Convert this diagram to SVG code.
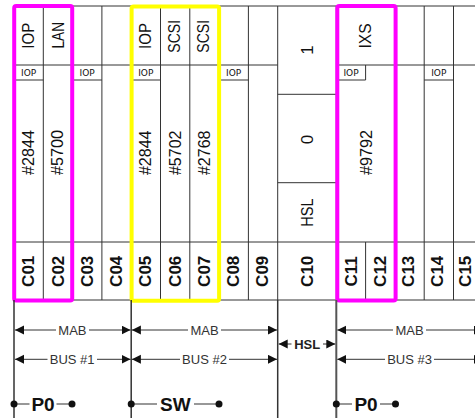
<svg xmlns="http://www.w3.org/2000/svg" width="475" height="418" viewBox="0 0 475 418">
<style>
.g{stroke:#333;stroke-width:1;fill:none}
.t{font-family:"Liberation Sans",Arial,sans-serif;font-size:17px;fill:#111;text-anchor:middle}
.b{font-weight:bold}
.s{font-family:"DejaVu Sans",sans-serif;font-size:9px;fill:#111;text-anchor:middle}
.a{font-family:"Liberation Sans",Arial,sans-serif;font-size:13px;fill:#333;text-anchor:middle}
.hb{font-family:"Liberation Sans",Arial,sans-serif;font-size:13px;font-weight:bold;fill:#222;text-anchor:middle}
.p{font-family:"Liberation Sans",Arial,sans-serif;font-size:19px;font-weight:bold;fill:#111;text-anchor:middle}
.conn{stroke:#333;stroke-width:1;fill:none;marker-start:url(#ah);marker-end:url(#ah)}
.ln{stroke:#333;stroke-width:1.2;fill:none}
.dot{fill:#111}
.mg{fill:none;stroke:#ff00ff;stroke-width:4}
.yl{fill:none;stroke:#ffff00;stroke-width:4}
</style>
<defs>
<marker id="ah" markerUnits="userSpaceOnUse" markerWidth="10" markerHeight="10" refX="9" refY="4.5" orient="auto-start-reverse">
<path d="M0,0 L9,4.5 L0,9 z" fill="#111"/>
</marker>
</defs>

<g id="grid" class="g">
<path d="M14,6H475 M14,300H475 M14,242H475 M14,65H277.7 M336.3,65H475"/>
<path d="M14,6V300 M43.3,6V300 M72.6,6V300 M101.9,6V300 M131.2,6V300 M160.5,6V300 M189.8,6V300 M219.1,6V300 M248.4,6V300 M277.7,6V300 M336.3,6V300 M394.9,6V300 M424.2,6V300 M453.5,6V300"/>
<path d="M365.6,242V300 M365.6,65V80"/>
<path d="M277.7,94.3H336.3 M277.7,182.7H336.3"/>
<path d="M14,80H43.3 M72.6,80H101.9 M131.2,80H160.5 M219.1,80H248.4 M336.3,80H365.6 M424.2,80H453.5"/>
</g>

<g id="iop-tags">
<text class="s" x="28.6" y="76.3">IOP</text>
<text class="s" x="87.2" y="76.3">IOP</text>
<text class="s" x="145.8" y="76.3">IOP</text>
<text class="s" x="233.7" y="76.3">IOP</text>
<text class="s" x="351" y="76.3">IOP</text>
<text class="s" x="438.8" y="76.3">IOP</text>
</g>

<g id="C01">
<text class="t" transform="translate(28,35.7) rotate(-90)" y="6.1" textLength="26" lengthAdjust="spacingAndGlyphs">IOP</text>
<text class="t" transform="translate(27.6,152.5) rotate(-90)" y="6.1" textLength="45" lengthAdjust="spacingAndGlyphs">#2844</text>
<text class="t b" transform="translate(28,271.3) rotate(-90)" y="6.1">C01</text>
</g>
<g id="C02">
<text class="t" transform="translate(57.5,35.2) rotate(-90)" y="6.1" textLength="26.6" lengthAdjust="spacingAndGlyphs">LAN</text>
<text class="t" transform="translate(57,152.5) rotate(-90)" y="6.1" textLength="45" lengthAdjust="spacingAndGlyphs">#5700</text>
<text class="t b" transform="translate(57.4,271.3) rotate(-90)" y="6.1">C02</text>
</g>
<g id="C03">
<text class="t b" transform="translate(86.6,271.3) rotate(-90)" y="6.1">C03</text>
</g>
<g id="C04">
<text class="t b" transform="translate(115.9,271.3) rotate(-90)" y="6.1">C04</text>
</g>
<g id="C05">
<text class="t" transform="translate(144.6,36) rotate(-90)" y="6.1" textLength="26" lengthAdjust="spacingAndGlyphs">IOP</text>
<text class="t" transform="translate(145,152.8) rotate(-90)" y="6.1" textLength="44.5" lengthAdjust="spacingAndGlyphs">#2844</text>
<text class="t b" transform="translate(145.2,271.3) rotate(-90)" y="6.1">C05</text>
</g>
<g id="C06">
<text class="t" transform="translate(174,36.3) rotate(-90)" y="6.1" textLength="32.7" lengthAdjust="spacingAndGlyphs">SCSI</text>
<text class="t" transform="translate(175,152.8) rotate(-90)" y="6.1" textLength="44.5" lengthAdjust="spacingAndGlyphs">#5702</text>
<text class="t b" transform="translate(174.5,271.3) rotate(-90)" y="6.1">C06</text>
</g>
<g id="C07">
<text class="t" transform="translate(203,36.3) rotate(-90)" y="6.1" textLength="32.7" lengthAdjust="spacingAndGlyphs">SCSI</text>
<text class="t" transform="translate(203.4,152.8) rotate(-90)" y="6.1" textLength="44.5" lengthAdjust="spacingAndGlyphs">#2768</text>
<text class="t b" transform="translate(203.8,271.3) rotate(-90)" y="6.1">C07</text>
</g>
<g id="C08">
<text class="t b" transform="translate(233,271.3) rotate(-90)" y="6.1">C08</text>
</g>
<g id="C09">
<text class="t b" transform="translate(262.3,271.3) rotate(-90)" y="6.1">C09</text>
</g>
<g id="C10">
<text class="t" transform="translate(306.7,50) rotate(-90)" y="6.1">1</text>
<text class="t" transform="translate(306.7,139.5) rotate(-90)" y="6.1">0</text>
<text class="t" transform="translate(306.7,212.5) rotate(-90)" y="6.1" textLength="28.3" lengthAdjust="spacingAndGlyphs">HSL</text>
<text class="t b" transform="translate(306.6,271.3) rotate(-90)" y="6.1">C10</text>
</g>
<g id="C11">
<text class="t" transform="translate(365,36) rotate(-90)" y="6.1" textLength="25" lengthAdjust="spacingAndGlyphs">IXS</text>
<text class="t" transform="translate(365.8,152.5) rotate(-90)" y="6.1" textLength="45" lengthAdjust="spacingAndGlyphs">#9792</text>
<text class="t b" transform="translate(350.5,271.3) rotate(-90)" y="6.1">C11</text>
</g>
<g id="C12">
<text class="t b" transform="translate(379.6,271.3) rotate(-90)" y="6.1">C12</text>
</g>
<g id="C13">
<text class="t b" transform="translate(408,271.3) rotate(-90)" y="6.1">C13</text>
</g>
<g id="C14">
<text class="t b" transform="translate(437.3,271.3) rotate(-90)" y="6.1">C14</text>
</g>
<g id="C15">
<text class="t b" transform="translate(465,271.3) rotate(-90)" y="6.1">C15</text>
</g>

<g id="groups">
<rect class="mg" x="14.2" y="6" width="58" height="294.5" rx="2"/>
<rect class="yl" x="131.6" y="6.5" width="87.5" height="294.3" rx="2"/>
<rect class="mg" x="337.3" y="6" width="58.3" height="294.5" rx="2"/>
</g>

<g id="connectors">
<path d="M14,300V418 M131.2,300V418 M277.7,300V418" stroke="#333" stroke-width="1.5" fill="none"/>
<path d="M336.3,300V418" stroke="#555" stroke-width="2" fill="none"/>
<path class="conn" d="M15,330H56 M89,330H130.5"/>
<path class="conn" d="M15,359.3H47.5 M97,359.3H130.5"/>
<path class="conn" d="M131.9,330H188 M221,330H277"/>
<path class="conn" d="M131.9,359.3H180 M229,359.3H277"/>
<path class="conn" d="M337.3,330H393 M426,330H482.8"/>
<path class="conn" d="M337.3,359.3H385 M434,359.3H482.8"/>
<path class="conn" d="M278.7,344H291.5 M323,344H335.3"/>
<path class="ln" d="M14,404H29.5 M56.5,404H72"/>
<path class="ln" d="M131.2,404H157 M194,404H219"/>
<path class="ln" d="M336.3,404H352 M380,404H395.5"/>
<circle class="dot" cx="14" cy="404" r="3.5"/>
<circle class="dot" cx="72" cy="404" r="3.5"/>
<circle class="dot" cx="131.2" cy="404" r="3.5"/>
<circle class="dot" cx="219" cy="404" r="3.5"/>
<circle class="dot" cx="336.3" cy="404" r="3.5"/>
<circle class="dot" cx="395.5" cy="404" r="3.5"/>
</g>

<g id="labels">
<text class="a" x="72.4" y="334.5">MAB</text>
<text class="a" x="72.2" y="363.9">BUS #1</text>
<text class="a" x="204.5" y="334.5">MAB</text>
<text class="a" x="204.5" y="363.9">BUS #2</text>
<text class="a" x="409.6" y="334.5">MAB</text>
<text class="a" x="409.6" y="363.9">BUS #3</text>
<text class="hb" x="307.2" y="348.7">HSL</text>
<text class="p" x="43" y="410.5">P0</text>
<text class="p" x="175.3" y="410.5">SW</text>
<text class="p" x="366" y="410.5">P0</text>
</g>
</svg>
